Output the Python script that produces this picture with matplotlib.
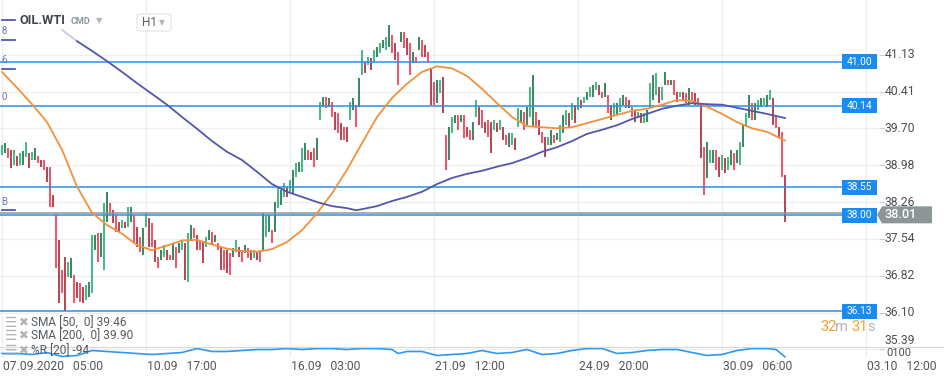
import matplotlib
matplotlib.use("Agg")
import matplotlib.pyplot as plt
from matplotlib.patches import FancyBboxPatch, Polygon, Rectangle
from matplotlib.lines import Line2D
import numpy as np

plt.rcParams['font.family'] = ['Roboto', 'DejaVu Sans']

# ---------------- data ----------------
highs = [
    39.37, 39.41, 39.31, 39.28, 39.28, 39.16, 39.22, 39.26, 39.43, 39.22,
    39.24, 39.31, 39.16, 39.08, 39.08, 38.95, 38.95, 38.40, 38.01, 37.52,
    36.93, 37.19, 37.09, 37.17, 36.84, 36.70, 36.68, 36.60, 36.64, 36.70,
    37.62, 37.62, 37.66, 37.66, 38.24, 38.46, 38.24, 38.10, 38.01, 37.87,
    37.91, 37.87, 38.17, 38.17, 38.01, 37.77, 37.58, 37.75, 38.05, 37.95,
    37.85, 37.52, 37.19, 37.32, 37.42, 37.32, 37.23, 37.46, 37.38, 37.46,
    37.52, 37.46, 37.66, 37.81, 37.75, 37.62, 37.52, 37.48, 37.58, 37.71,
    37.68, 37.62, 37.46, 37.38, 37.32, 37.32, 37.27, 37.36, 37.52, 37.38,
    37.32, 37.42, 37.36, 37.32, 37.32, 37.29, 37.32, 38.05, 38.01, 38.01,
    37.71, 38.26, 38.56, 38.50, 38.63, 38.56, 38.69, 38.89, 39.02, 39.04,
    39.31, 39.41, 39.28, 39.24, 39.31, 39.51, 40.21, 40.31, 40.31, 40.29,
    40.21, 40.02, 40.00, 39.80, 39.72, 39.72, 40.21, 40.29, 40.16, 40.68,
    41.23, 40.99, 41.09, 41.07, 41.23, 41.28, 41.36, 41.42, 41.48, 41.71,
    41.52, 41.36, 41.19, 41.58, 41.58, 41.46, 41.36, 41.19, 41.09, 41.48,
    41.42, 41.32, 41.19, 40.87, 40.60, 40.64, 40.64, 40.70, 39.57, 39.72,
    39.92, 39.96, 39.96, 39.96, 39.96, 39.72, 39.67, 39.82, 40.25, 40.12,
    40.06, 39.82, 39.86, 39.82, 39.86, 39.80, 39.86, 39.72, 39.57, 39.61,
    39.61, 39.51, 40.10, 40.06, 40.02, 40.12, 40.50, 40.74, 40.02, 39.86,
    39.63, 39.53, 39.53, 39.67, 39.57, 39.61, 39.76, 39.96, 40.06, 40.00,
    40.19, 40.16, 40.31, 40.25, 40.31, 40.41, 40.50, 40.54, 40.60, 40.54,
    40.41, 40.58, 40.35, 40.16, 40.19, 40.19, 40.29, 40.35, 40.31, 40.25,
    40.12, 40.06, 40.02, 40.00, 40.00, 40.06, 40.58, 40.74, 40.78, 40.50,
    40.50, 40.80, 40.64, 40.64, 40.64, 40.41, 40.41, 40.41, 40.39, 40.48,
    40.41, 40.39, 40.29, 40.19, 39.33, 39.43, 39.28, 39.28, 39.28, 39.14,
    39.18, 39.12, 39.14, 39.28, 39.22, 39.28, 39.43, 39.76, 40.00, 40.35,
    40.19, 40.19, 40.25, 40.29, 40.29, 40.35, 40.45, 40.29, 39.96, 39.72,
    39.63, 38.79,
]
lows = [
    39.18, 39.22, 39.12, 38.93, 38.99, 38.97, 38.99, 38.99, 39.14, 38.93,
    39.08, 39.08, 39.02, 38.95, 38.89, 38.65, 38.17, 38.17, 36.98, 36.29,
    36.49, 36.13, 36.80, 36.78, 36.29, 36.39, 36.31, 36.29, 36.35, 36.41,
    36.49, 37.32, 37.09, 37.19, 36.93, 37.87, 38.01, 37.85, 37.68, 37.68,
    37.75, 37.75, 37.77, 37.87, 37.46, 37.38, 37.29, 37.23, 37.77, 37.38,
    37.38, 37.09, 36.98, 37.13, 37.19, 37.13, 37.13, 37.13, 36.98, 37.27,
    37.32, 36.73, 36.70, 37.52, 37.56, 37.32, 37.32, 37.07, 37.38, 37.52,
    37.42, 37.48, 37.32, 36.93, 36.93, 36.88, 36.84, 37.19, 37.29, 37.19,
    37.09, 37.27, 37.17, 37.13, 37.17, 37.13, 37.09, 37.32, 37.58, 37.68,
    37.46, 37.68, 38.15, 38.21, 38.36, 38.36, 38.44, 38.44, 38.75, 38.85,
    38.85, 39.08, 39.08, 39.08, 38.95, 39.08, 39.86, 40.12, 40.10, 40.12,
    39.92, 39.67, 39.61, 39.47, 39.47, 39.43, 39.86, 40.06, 39.72, 40.12,
    40.74, 40.78, 40.93, 40.84, 40.99, 41.09, 41.17, 41.26, 41.23, 41.28,
    41.17, 41.03, 40.54, 41.38, 41.26, 41.13, 40.74, 40.97, 40.97, 41.23,
    41.09, 41.09, 40.97, 40.16, 40.16, 40.19, 40.39, 40.00, 38.89, 39.08,
    39.61, 39.80, 39.67, 39.82, 39.51, 39.53, 39.47, 39.47, 39.92, 39.76,
    39.70, 39.61, 39.53, 39.22, 39.67, 39.63, 39.67, 39.47, 39.37, 39.33,
    39.37, 39.28, 39.72, 39.80, 39.67, 39.76, 39.92, 39.72, 39.72, 39.57,
    39.41, 39.14, 39.37, 39.37, 39.41, 39.47, 39.43, 39.61, 39.76, 39.72,
    39.86, 39.80, 40.06, 40.10, 40.19, 40.25, 40.31, 40.31, 40.45, 40.35,
    40.29, 40.31, 40.00, 39.86, 39.96, 39.96, 40.02, 40.16, 40.10, 40.10,
    39.92, 39.82, 39.90, 39.80, 39.80, 39.82, 40.10, 40.25, 40.35, 40.19,
    40.25, 40.54, 40.54, 40.54, 40.35, 40.21, 40.31, 40.25, 40.19, 40.16,
    40.21, 40.16, 40.16, 39.12, 38.40, 38.73, 39.02, 39.02, 38.89, 38.75,
    38.89, 38.83, 38.89, 38.99, 38.89, 39.02, 38.99, 39.33, 39.72, 39.90,
    39.86, 39.86, 40.06, 40.12, 40.16, 40.12, 40.25, 39.76, 39.70, 39.51,
    38.75, 37.87,
]
last_close = 38.01

sma50_idx = [0, 5, 10, 15, 20, 25, 30, 35, 40, 45, 50, 55, 60, 65, 70, 75, 80, 85,
             90, 95, 100, 105, 110, 115, 120, 125, 130, 135, 140, 145, 150, 155, 160,
             165, 170, 175, 180, 185, 190, 195, 200, 205, 210, 215, 220, 225, 230,
             235, 240, 245, 250, 255, 261]
sma50 = [40.80, 40.49, 40.17, 39.82, 39.28, 38.56, 38.05, 37.81, 37.64, 37.42,
         37.32, 37.41, 37.51, 37.52, 37.43, 37.35, 37.30, 37.29, 37.34, 37.48,
         37.71, 38.04, 38.43, 38.89, 39.41, 39.92, 40.29, 40.57, 40.80, 40.91,
         40.87, 40.72, 40.47, 40.19, 39.92, 39.74, 39.72, 39.70, 39.72, 39.80,
         39.88, 39.96, 40.04, 40.08, 40.16, 40.25, 40.23, 40.12, 39.98, 39.82,
         39.70, 39.63, 39.46]

sma200_idx = [20, 25, 30, 35, 40, 45, 50, 55, 60, 65, 70, 75, 80, 85, 90, 95, 100,
              105, 110, 115, 118, 120, 125, 130, 135, 140, 145, 150, 155, 160, 165,
              170, 175, 180, 185, 190, 195, 200, 205, 210, 215, 220, 225, 230, 235,
              240, 245, 250, 255, 261]
sma200 = [41.62, 41.40, 41.21, 41.01, 40.80, 40.58, 40.37, 40.16, 39.92, 39.69,
          39.45, 39.24, 39.08, 38.85, 38.61, 38.46, 38.36, 38.26, 38.18, 38.14,
          38.10, 38.12, 38.18, 38.28, 38.36, 38.46, 38.61, 38.73, 38.81, 38.87,
          38.95, 39.02, 39.12, 39.24, 39.33, 39.45, 39.59, 39.67, 39.76, 39.88,
          39.98, 40.08, 40.14, 40.19, 40.17, 40.16, 40.10, 40.04, 39.98, 39.90]

wr_idx = [0, 5, 10, 15, 20, 25, 30, 35, 40, 45, 50, 55, 60, 65, 70, 75, 80, 85, 90,
          95, 100, 105, 110, 115, 120, 125, 130, 132, 135, 140, 145, 150, 155, 160,
          165, 170, 175, 180, 185, 190, 195, 200, 205, 210, 215, 220, 225, 230, 235,
          240, 245, 250, 255, 258, 261]
wr = [-60, -60, -70, -50, -90, -80, -30, -40, -50, -60, -70, -60, -50, -10, -40,
      -40, -30, -20, -20, -10, -20, -10, -10, -20, -10, -10, -20, -60, -40, -40,
      -80, -70, -60, -30, -60, -50, -20, -70, -60, -30, -10, -10, -60, -50, -30,
      -20, -20, -50, -80, -70, -30, -10, -10, -20, -94]

levels = [41.00, 40.14, 38.55, 38.00, 36.13]
price_ticks = [41.13, 40.41, 39.70, 38.98, 38.26, 37.54, 36.82, 36.10, 35.39]
time_tick_idx = [0, 48, 96, 144, 192, 240, 288]
time_labels = ["07.09.2020   05:00", "10.09   17:00", "16.09   03:00", "21.09   12:00",
               "24.09   20:00", "30.09   06:00", "03.10   12:00"]
legend_rows = ["SMA [50,  0] 39.46", "SMA [200,  0] 39.90", "%R [20] -94"]
wr_scale_label = "0100"

# ---------------- layout ----------------
W, H = 945, 384
fig = plt.figure(figsize=(W / 100, H / 100), dpi=100)
fig.patch.set_facecolor('white')


def fx(px):
    return px / W


def fy(py):
    return 1 - py / H


PLOT_R, PLOT_B = 880, 358
ax = fig.add_axes([0, fy(PLOT_B), fx(PLOT_R), PLOT_B / H])
ax.set_xlim(-2 / 3, (PLOT_R - 2) / 3)
ax.set_ylim(35.2154, 42.2036)
ax.axis('off')

GRID = '#eeeeee'
for p in price_ticks:
    ax.axhline(p, color=GRID, lw=0.9, zorder=0)
for t in time_tick_idx:
    ax.axvline(t, color=GRID, lw=0.9, zorder=0)

# candles
idx = np.arange(len(highs))
hi = np.array(highs)
lo = np.array(lows)
mid = (hi + lo) / 2
up = np.r_[True, mid[1:] >= mid[:-1]]
cols = []
for i, u in enumerate(up):
    if u:
        cols.append('#18ab6b' if i % 2 == 0 else '#0e6b3e')
    else:
        cols.append('#f42a41' if i % 2 == 0 else '#a51b2c')
ax.vlines(idx, lo, hi, colors=cols, lw=1.15, zorder=3)

# moving averages
ax.plot(sma50_idx, sma50, color='#f3903c', lw=1.3, zorder=4, solid_capstyle='round')
ax.plot(sma200_idx[:2], sma200[:2], color='#c9cae6', lw=1.3, zorder=4)
ax.plot(sma200_idx[1:], sma200[1:], color='#5357a8', lw=1.3, zorder=4)

# horizontal levels
BLUE = '#2a8ef0'
xmax_frac = 842 / PLOT_R
for lv in levels:
    ax.axhline(lv, xmin=0, xmax=xmax_frac, color=BLUE, lw=1.1, zorder=3.5)
ax.axhline(last_close + 0.045, xmin=0, xmax=xmax_frac, color='#8e979a', lw=1.1, zorder=3.4)


def py_of(price):
    disp = ax.transData.transform((0, price))[1]
    return H - disp


for lv in levels:
    yc = py_of(lv)
    fig.patches.append(Rectangle((fx(842), fy(yc + 7.5)), 35 / W, 15 / H,
                                 transform=fig.transFigure, facecolor='#1a8cf0',
                                 edgecolor='none', zorder=5))
    fig.text(fx(859.5), fy(yc), f"{lv:.2f}", color='white', fontsize=7.3,
             ha='center', va='center', zorder=6)

# current price tag
yc = py_of(last_close)
pts = [(877, yc), (882, yc - 8.5), (932, yc - 8.5), (932, yc + 8.5), (882, yc + 8.5)]
fig.patches.append(Polygon([(fx(a), fy(b)) for a, b in pts], closed=True,
                           transform=fig.transFigure, facecolor='#8c9598',
                           edgecolor='none', zorder=5))
fig.text(fx(885), fy(yc), f"{last_close:.2f}", color='white', fontsize=9.2,
         fontweight='medium', ha='left', va='center', zorder=6)

# right price labels + tick marks
for p in price_ticks:
    y = min(py_of(p), 340.5)
    fig.text(fx(885), fy(y), f"{p:.2f}", color='#4a4f53', fontsize=8.7,
             ha='left', va='center')
    fig.lines.append(Line2D([fx(880), fx(884)], [fy(py_of(p))] * 2,
                            transform=fig.transFigure, color='#cfcfcf', lw=0.8))

# separator between main and indicator panes
fig.lines.append(Line2D([0, 1], [fy(347)] * 2, transform=fig.transFigure,
                        color='#d8d8d8', lw=0.8))

# %R indicator pane
ax2 = fig.add_axes([0, fy(358), fx(PLOT_R), 12 / H])
ax2.set_xlim(-2 / 3, (PLOT_R - 2) / 3)
ax2.set_ylim(-105, 15)
ax2.axis('off')
ax2.patch.set_alpha(0)
ax2.plot(wr_idx, wr, color='#2d98f3', lw=1.2)
fig.text(fx(886), fy(353), wr_scale_label, color='#4a4f53', fontsize=8.0,
         ha='left', va='center')

# time labels
for t, lab in zip(time_tick_idx, time_labels):
    xpx = 2 + 3 * t + 1.5
    fig.text(fx(xpx), fy(366), lab, color='#50565a', fontsize=8.7, ha='left', va='center')

# legend rows
for i, row in enumerate(legend_rows):
    y = [323, 336, 351][i]
    fig.text(fx(5), fy(y), "\u2630", color='#b3b3b3', fontsize=10, ha='left', va='center',
             family=['DejaVu Sans'])
    fig.text(fx(19), fy(y), "\u2716", color='#b3b3b3', fontsize=8.5, ha='left', va='center',
             family=['DejaVu Sans'])
    fig.text(fx(31), fy(y), row, color='#555b5f', fontsize=8.6, ha='left', va='center')

# countdown
for txt, xpx, c in [("32", 820, '#f5a02c'), ("m", 835.5, '#b3b3b3'),
                    ("31", 851, '#f5a02c'), ("s", 867.5, '#b3b3b3')]:
    fig.text(fx(xpx), fy(327), txt, color=c, fontsize=10.5, ha='left', va='center')

# header
fig.lines.append(Line2D([fx(2), fx(15)], [fy(20)] * 2, transform=fig.transFigure,
                        color='#3f4ab0', lw=1.2))
fig.text(fx(20), fy(21), "OIL.WTI", color='#3d464b', fontsize=9.3, fontweight='bold',
         ha='left', va='center')
fig.text(fx(71), fy(22), "CMD", color='#8d969b', fontsize=6.5, fontweight='bold',
         ha='left', va='center')
fig.text(fx(96), fy(21), "\u25bc", color='#b0b6ba', fontsize=6, ha='left', va='center',
         family=['DejaVu Sans'])
fig.patches.append(FancyBboxPatch((fx(137), fy(31)), 34 / W, 17 / H,
                                  boxstyle="round,pad=0,rounding_size=0.004",
                                  transform=fig.transFigure, facecolor='white',
                                  edgecolor='#dfe3e6', lw=0.8, zorder=5))
fig.text(fx(142), fy(22.5), "H1", color='#5a5f63', fontsize=8.5, ha='left', va='center', zorder=6)
fig.text(fx(159), fy(22.5), "\u25bc", color='#b0b6ba', fontsize=5.5, ha='left', va='center',
         family=['DejaVu Sans'], zorder=6)

# left-edge marker lines and clipped labels
for ypx in [40, 69, 210]:
    fig.lines.append(Line2D([fx(2), fx(15)], [fy(ypx)] * 2, transform=fig.transFigure,
                            color='#3f4ab0', lw=1.2))
for s, ypx in [("8", 31), ("6", 60), ("0", 97), ("B", 202)]:
    fig.text(fx(1), fy(ypx), s, color='#6a78c8', fontsize=7, ha='left', va='center')

fig.savefig('out.png', dpi=100, facecolor='white')
